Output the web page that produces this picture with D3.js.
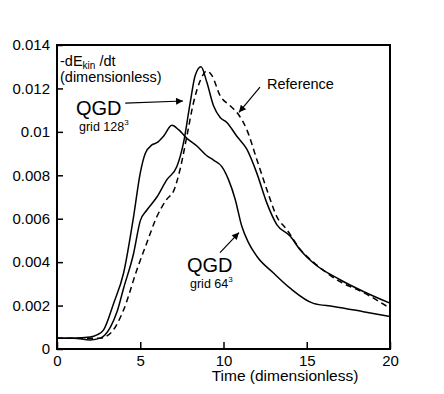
<!DOCTYPE html>
<html>
<head>
<meta charset="utf-8">
<script src="https://cdn.jsdelivr.net/npm/d3@7"></script>
<style>
  body { margin: 0; background: #fff; }
  text { font-family: "Liberation Sans", Arial, sans-serif; fill: #000; }
</style>
</head>
<body>
<div id="chart"></div>
<script>
// valeurs
var t64 = [0, 1, 2, 2.4, 2.8, 3.4, 4.0, 4.6, 5.0, 5.3, 5.7, 6.0, 6.4, 6.9, 7.3, 7.8, 8.4, 9.0, 9.4, 9.9, 10.3, 10.7, 11.1, 11.5, 12.0, 13.0, 14.0, 15.4, 16.6, 18.4, 20];
var v64 = [0.0005, 0.0005, 0.00055, 0.00065, 0.00088, 0.0021, 0.0035, 0.0061, 0.0081, 0.0090, 0.0094, 0.0095, 0.0098, 0.0103, 0.0101, 0.0097, 0.00935, 0.0089, 0.0087, 0.0084, 0.0078, 0.0069, 0.00565, 0.0049, 0.00427, 0.0035, 0.0028, 0.0021, 0.00196, 0.00172, 0.0015];

var t128 = [0, 1, 2, 2.6, 3.2, 3.6, 4.0, 4.6, 5.0, 5.4, 6.0, 6.6, 7.2, 7.6, 8.0, 8.3, 8.65, 9.0, 9.4, 9.8, 10.2, 10.8, 11.4, 12.0, 12.6, 13.2, 14.0, 14.6, 15.4, 17.0, 18.4, 20];
var v128 = [0.0005, 0.0005, 0.00042, 0.0005, 0.001, 0.0017, 0.0028, 0.0044, 0.0059, 0.0064, 0.0070, 0.0078, 0.0084, 0.0095, 0.01135, 0.0126, 0.0130, 0.01228, 0.0112, 0.01066, 0.01043, 0.0098, 0.0092, 0.0081, 0.00673, 0.00573, 0.0052, 0.00457, 0.00396, 0.00319, 0.00265, 0.00211];

var tRef = [0, 1, 2, 2.6, 3.3, 4.0, 4.8, 5.4, 6.0, 6.6, 7.0, 7.4, 7.8, 8.2, 8.6, 9.0, 9.3, 9.8, 10.4, 10.9, 11.4, 12.0, 12.6, 13.2, 13.8, 14.6, 15.4, 17.0, 18.4, 20];
var vRef = [0.0005, 0.0005, 0.0005, 0.0005, 0.0008, 0.0018, 0.00365, 0.0049, 0.0061, 0.0069, 0.00727, 0.0083, 0.0098, 0.01135, 0.01235, 0.0128, 0.0126, 0.01166, 0.0112, 0.0108, 0.0101, 0.00873, 0.00735, 0.0061, 0.0055, 0.0046, 0.0040, 0.0031, 0.0026, 0.00188];

var xTicks = [0, 5, 10, 15, 20];
var yTicks = [0, 0.002, 0.004, 0.006, 0.008, 0.01, 0.012, 0.014];
var yTickLabels = ["0", "0.002", "0.004", "0.006", "0.008", "0.01", "0.012", "0.014"];

var width = 444, height = 394;
var svg = d3.select("#chart").append("svg")
    .attr("width", width)
    .attr("height", height);

var x = d3.scaleLinear().domain([0, 20]).range([57, 390]);
var y = d3.scaleLinear().domain([0, 0.014]).range([349, 45]);

// fleche
svg.append("defs").append("marker")
    .attr("id", "arrow")
    .attr("viewBox", "0 0 10 10")
    .attr("refX", 10).attr("refY", 5)
    .attr("markerWidth", 11).attr("markerHeight", 7)
    .attr("markerUnits", "userSpaceOnUse")
    .attr("orient", "auto")
    .append("path")
    .attr("d", "M0,0 L10,5 L0,10 Z")
    .attr("fill", "#000");

var line = d3.line()
    .x(d => x(d[0]))
    .y(d => y(d[1]))
    .curve(d3.curveMonotoneX);

var series = [
    { t: t64, v: v64, dash: null },
    { t: t128, v: v128, dash: null },
    { t: tRef, v: vRef, dash: "6,4" }
];

series.forEach(function (s) {
    svg.append("path")
        .datum(s.t.map((t, i) => [t, s.v[i]]))
        .attr("d", line)
        .attr("fill", "none")
        .attr("stroke", "#000")
        .attr("stroke-width", 1.5)
        .attr("stroke-dasharray", s.dash);
});

// axes
var xAxis = d3.axisBottom(x).tickValues(xTicks).tickSize(-7).tickPadding(6).tickFormat(d3.format("d"));
var yAxis = d3.axisLeft(y).tickValues(yTicks).tickSize(-6).tickPadding(7)
    .tickFormat((d, i) => yTickLabels[i]);

var gx = svg.append("g").attr("transform", "translate(0," + y(0) + ")").call(xAxis);
var gy = svg.append("g").attr("transform", "translate(" + x(0) + ",0)").call(yAxis);

[gx, gy].forEach(function (g) {
    g.select(".domain").remove();
    g.selectAll(".tick line").attr("stroke", "#000").attr("stroke-width", 1.5);
    g.selectAll("text").style("font-size", "15px").attr("fill", "#000")
        .style("font-family", '"Liberation Sans", Arial, sans-serif');
});

svg.append("rect")
    .attr("x", x(0)).attr("y", y(0.014))
    .attr("width", x(20) - x(0)).attr("height", y(0) - y(0.014))
    .attr("fill", "none")
    .attr("stroke", "#000")
    .attr("stroke-width", 2);

svg.append("text")
    .attr("x", 285).attr("y", 381)
    .attr("text-anchor", "middle")
    .style("font-size", "15.5px")
    .text("Time (dimensionless)");

// titre axe y
var yl = svg.append("text").attr("x", 60).attr("y", 66).style("font-size", "14.5px");
yl.append("tspan").text("-dE");
yl.append("tspan").attr("dy", 2.5).style("font-size", "10px").text("kin");
yl.append("tspan").attr("dy", -2.5).text(" /dt");
svg.append("text").attr("x", 60).attr("y", 82).style("font-size", "14.5px").text("(dimensionless)");

// annotations
function label(px, py, sub) {
    svg.append("text").attr("x", px).attr("y", py).style("font-size", "20px").text("QGD");
    var g = svg.append("text").attr("x", px + 3).attr("y", py + 16).style("font-size", "12.5px");
    g.append("tspan").text(sub);
    g.append("tspan").attr("dy", -6).style("font-size", "8px").text("3");
}
label(76, 115, "grid 128");
label(187, 272, "grid 64");

svg.append("text").attr("x", 267).attr("y", 89).style("font-size", "14.5px").text("Reference");

var arrows = [
    { from: [4.1, 0.01132], to: [7.57, 0.01142] },
    { from: [12.19, 0.01206], to: [10.93, 0.0109] },
    { from: [9.79, 0.00444], to: [10.93, 0.00536] }
];
arrows.forEach(function (a) {
    svg.append("line")
        .attr("x1", x(a.from[0])).attr("y1", y(a.from[1]))
        .attr("x2", x(a.to[0])).attr("y2", y(a.to[1]))
        .attr("stroke", "#000").attr("stroke-width", 1.2)
        .attr("marker-end", "url(#arrow)");
});
</script>
</body>
</html>
